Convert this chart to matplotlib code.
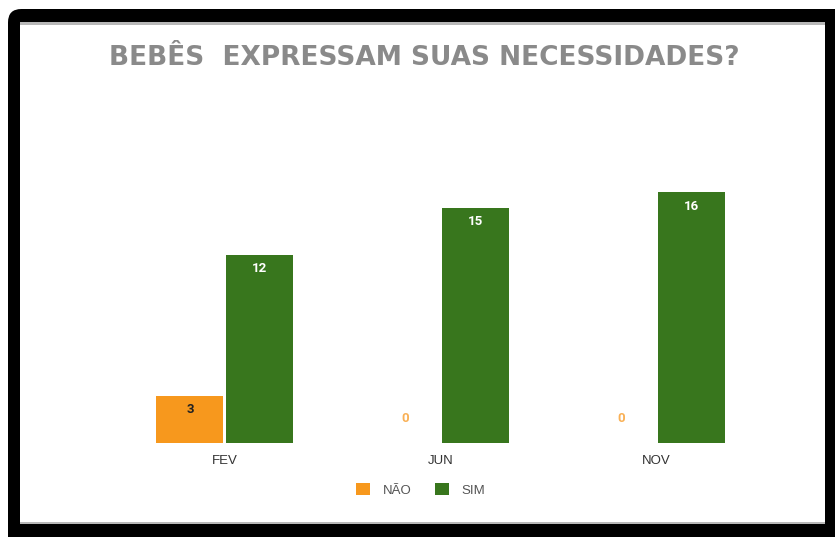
import matplotlib
matplotlib.use("Agg")
import matplotlib.pyplot as plt
import numpy as np
from matplotlib.patches import FancyBboxPatch, Rectangle

meses = ["FEV", "JUN", "NOV"]
nao = [3, 0, 0]
sim = [12, 15, 16]
titulo = "BEBÊS  EXPRESSAM SUAS NECESSIDADES?"

W, H = 835, 537
laranja = "#f7981d"
verde = "#38761d"

def fx(px):
    return px / W

def fy(py):
    return 1 - py / H

fig = plt.figure(figsize=(W / 100, H / 100), dpi=100)
fig.patch.set_facecolor("white")

# moldura preta com canto arredondado
moldura = FancyBboxPatch((fx(8), fy(560)), fx(870 - 8), (560 - 9) / H,
                         boxstyle="round,pad=0,rounding_size=0.016",
                         transform=fig.transFigure, facecolor="black",
                         edgecolor="none", mutation_aspect=W / H, zorder=-3)
fig.patches.append(moldura)
fig.patches.append(Rectangle((fx(20), fy(523)), fx(825 - 20), (523 - 22) / H,
                             transform=fig.transFigure, facecolor="white",
                             edgecolor="none", zorder=-2))
fig.patches.append(Rectangle((fx(20), fy(24.5)), fx(825 - 20), 2.5 / H,
                             transform=fig.transFigure, facecolor="#b8b8b8",
                             edgecolor="none", zorder=-1))
fig.patches.append(Rectangle((fx(20), fy(523.5)), fx(825 - 20), 1.5 / H,
                             transform=fig.transFigure, facecolor="#b8b8b8",
                             edgecolor="none", zorder=-1))

ax = fig.add_axes([fx(117), 1 - 443 / H, fx(764 - 117), 282 / H])
ax.set_zorder(2)
ax.set_facecolor("none")
x = np.arange(len(meses))
w = 0.31
off = 0.162
b1 = ax.bar(x - off, nao, w, color=laranja)
b2 = ax.bar(x + off, sim, w, color=verde)
ax.set_xlim(-0.5, 2.5)
ax.set_ylim(0, 18)
for s in ax.spines.values():
    s.set_visible(False)
ax.set_yticks([])
ax.set_xticks(x)
ax.set_xticklabels(meses, fontsize=9.5, color="#333333", family="Liberation Sans")
ax.tick_params(axis="x", length=0, pad=9)

for xi, v in zip(x, nao):
    if v > 0:
        ax.annotate(str(v), (xi - off, v), xytext=(0, -10), textcoords="offset points",
                    ha="center", va="center", fontsize=9.5, fontweight="bold",
                    color="#222222", family="Roboto")
    else:
        ax.annotate(str(v), (xi - off, v), xytext=(0, 18), textcoords="offset points",
                    ha="center", va="center", fontsize=9.5, fontweight="bold",
                    color="#f9b055", family="Roboto")
for xi, v in zip(x, sim):
    ax.annotate(str(v), (xi + off, v), xytext=(0, -10), textcoords="offset points",
                ha="center", va="center", fontsize=9.5, fontweight="bold",
                color="white", family="Roboto")

fig.text(fx(424), fy(58), titulo, ha="center", va="center", fontsize=19,
         fontweight="bold", color="#8a8a8a", family="DejaVu Sans")

leg = fig.legend([b1, b2], ["NÃO", "SIM"], loc="center",
                 bbox_to_anchor=(fx(421), fy(490)), ncol=2, frameon=False,
                 handlelength=1.0, handleheight=1.0, handletextpad=1.0,
                 columnspacing=1.8, prop={"family": "Liberation Sans", "size": 9.5})
for t in leg.get_texts():
    t.set_color("#555555")

fig.savefig("out.png", dpi=100, facecolor=fig.get_facecolor())
